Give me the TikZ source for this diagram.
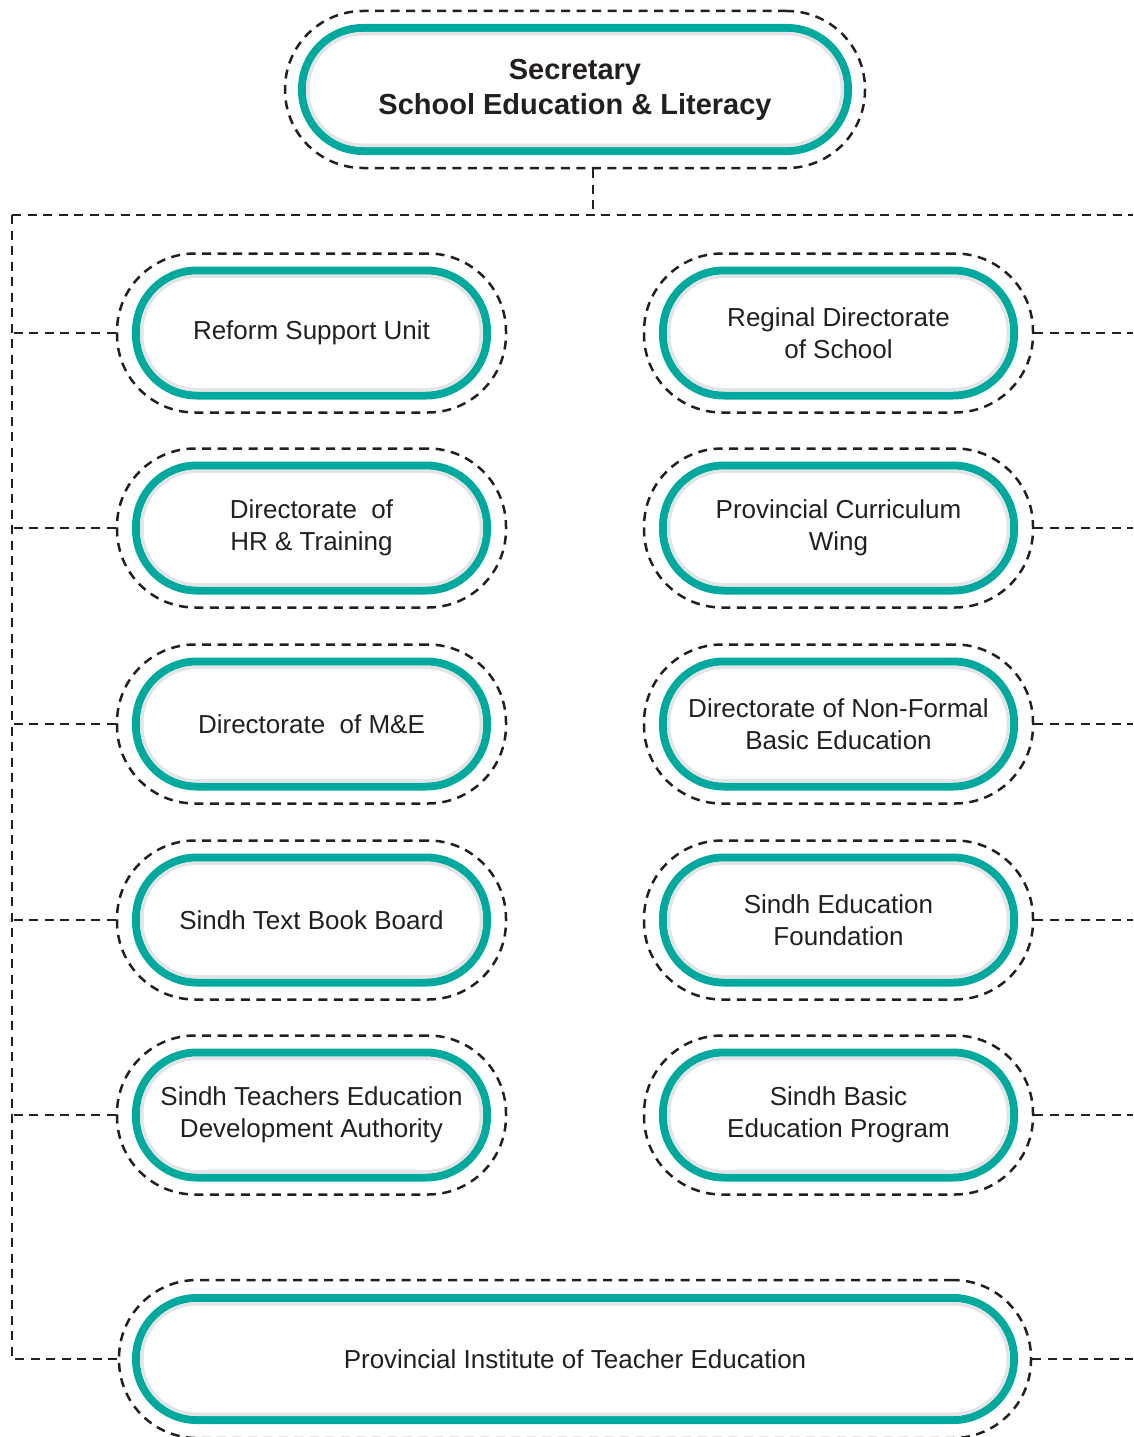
\documentclass[tikz,border=0pt]{standalone}
\usepackage{fontspec}
\setmainfont{Liberation Sans}
\definecolor{seteal}{HTML}{00A99D}
\definecolor{ink}{HTML}{231F20}
\definecolor{rimgrey}{HTML}{E3E4E5}

\begin{document}
\begin{tikzpicture}[x=1pt,y=-1pt]
        \tikzset{ring/.style = {shape=rectangle, rounded corners=78pt, draw=ink, line width=2.5pt, dash pattern=on 9pt off 6.5pt, minimum width=389pt, minimum height=159pt}}
        \tikzset{unit/.style = {shape=rectangle, rounded corners=61pt, draw=seteal, line width=8pt, minimum width=351pt, minimum height=125pt, inner sep=0pt, align=center, text=ink, font=\fontsize{26}{32}\selectfont}}
        \tikzset{rim/.style = {shape=rectangle, rounded corners=55pt, draw=rimgrey, line width=3.5pt, minimum width=339.5pt, minimum height=113.5pt}}
        \tikzset{edge/.style = {draw=ink, line width=2.5pt, dash pattern=on 9pt off 6.5pt}}
        \useasboundingbox (0,0) rectangle (1133,1437);
        % dashed rings
        \node[ring, minimum width=580pt, minimum height=157pt] (os) at (575,89.5) {};
        \node[ring] (ol1) at (311.5,333) {};
        \node[ring] (ol2) at (311.5,528) {};
        \node[ring] (ol3) at (311.5,724) {};
        \node[ring] (ol4) at (311.5,920) {};
        \node[ring] (ol5) at (311.5,1115) {};
        \node[ring] (or1) at (838.5,333) {};
        \node[ring] (or2) at (838.5,528) {};
        \node[ring] (or3) at (838.5,724) {};
        \node[ring] (or4) at (838.5,920) {};
        \node[ring] (or5) at (838.5,1115) {};
        \node[ring, minimum width=912pt, minimum height=158pt] (ob) at (575,1359) {};
        % teal boxes
        \node[unit, minimum width=546pt, minimum height=123pt, font=\fontsize{29}{35}\selectfont\bfseries] (s) at (575,89.5) {Secretary\\School Education \& Literacy};
        \node[unit] (l1) at (311.5,333) {Reform Support Unit};
        \node[unit] (l2) at (311.5,528) {Directorate\ \ of\\HR \& Training};
        \node[unit] (l3) at (311.5,724) {Directorate\ \ of M\&E};
        \node[unit] (l4) at (311.5,920) {Sindh Text Book Board};
        \node[unit] (l5) at (311.5,1115) {Sindh Teachers Education\\Development Authority};
        \node[unit] (r1) at (838.5,333) {Reginal Directorate\\of School};
        \node[unit] (r2) at (838.5,528) {Provincial Curriculum\\Wing};
        \node[unit] (r3) at (838.5,724) {Directorate of Non-Formal\\Basic Education};
        \node[unit] (r4) at (838.5,920) {Sindh Education\\Foundation};
        \node[unit] (r5) at (838.5,1115) {Sindh Basic\\Education Program};
        \node[unit, minimum width=878pt, minimum height=122pt] (b) at (575,1359) {Provincial Institute of Teacher Education};
        % grey rims
        \node[rim, minimum width=534.5pt, minimum height=111.5pt] at (575,89.5) {};
        \node[rim] at (311.5,333) {};
        \node[rim] at (311.5,528) {};
        \node[rim] at (311.5,724) {};
        \node[rim] at (311.5,920) {};
        \node[rim] at (311.5,1115) {};
        \node[rim] at (838.5,333) {};
        \node[rim] at (838.5,528) {};
        \node[rim] at (838.5,724) {};
        \node[rim] at (838.5,920) {};
        \node[rim] at (838.5,1115) {};
        \node[rim, minimum width=866.5pt, minimum height=110.5pt] at (575,1359) {};

        %edges
        \coordinate (tl) at (12,215);
        \coordinate (tm) at (593,215);
        \coordinate (tr) at (1133,215);
        \coordinate (bl) at (12,1359);
        \coordinate (br) at (1133,1359);
        \draw[edge] (os.south -| tm) to (tm);
        \draw[edge] (tl) to (tr);
        \draw[edge] (tl) -- (bl) -- (ob.west);
        \draw[edge] (ob.east) to (br);
        \draw[edge] (ol1.west) to (ol1.west -| tl);
        \draw[edge] (ol2.west) to (ol2.west -| tl);
        \draw[edge] (ol3.west) to (ol3.west -| tl);
        \draw[edge] (ol4.west) to (ol4.west -| tl);
        \draw[edge] (ol5.west) to (ol5.west -| tl);
        \draw[edge] (or1.east) to (or1.east -| tr);
        \draw[edge] (or2.east) to (or2.east -| tr);
        \draw[edge] (or3.east) to (or3.east -| tr);
        \draw[edge] (or4.east) to (or4.east -| tr);
        \draw[edge] (or5.east) to (or5.east -| tr);
\end{tikzpicture}
\end{document}
